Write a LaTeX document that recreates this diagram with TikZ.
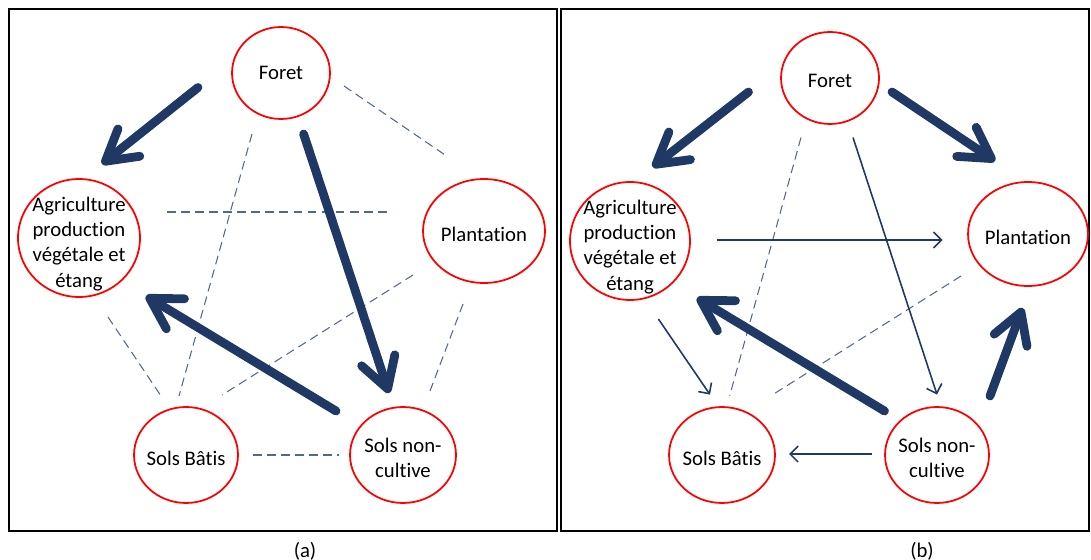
\documentclass[tikz,border=0pt]{standalone}
\usepackage{fontspec}
\setmainfont{Carlito}[Ligatures=NoCommon]
\usepackage{xcolor}
\usetikzlibrary{arrows.meta, shapes.geometric, calc}

\definecolor{flowblue}{RGB}{31,56,100}
\definecolor{linkblue}{RGB}{80,105,145}

\begin{document}
\begin{tikzpicture}[x=0.02cm, y=-0.02cm,
        land/.style={ellipse, draw=red, line width=1pt, inner sep=0pt},
        landtext/.style={align=center, font={\fontsize{11.8}{14.3}\selectfont}, inner sep=0pt, yshift=-1.7pt},
        bigflow/.style={draw=flowblue, line width=5pt, line cap=round, -{Straight Barb[length=6mm, width=7mm, line cap=round, line join=round]}},
        flow/.style={draw=flowblue, line width=0.9pt, -{Straight Barb[length=1.6mm, width=3.2mm]}},
        link/.style={draw=linkblue, line width=0.6pt, dash pattern=on 5pt off 3pt},
        panel/.style={draw=black, line width=1.1pt}
    ]
        \useasboundingbox (0,0) rectangle (1091,560);
        % Panels
        \draw[panel] (9,9) rectangle (557,531);
        \draw[panel] (561,9) rectangle (1089,531);
        \node (capA) [landtext] at (305,548) {(a)};
        \node (capB) [landtext] at (922,548) {(b)};
        % Land uses (a)
        \node (foretA) [land, minimum width=1.96cm, minimum height=1.84cm, label={[landtext, yshift=1.7pt]center:Foret}] at (281,73) {};
        \node (agriA) [land, minimum width=2.44cm, minimum height=2.36cm, label={[landtext, yshift=-1.7pt]center:Agriculture\\production\\végétale et\\étang}] at (79,238) {};
        \node (plantA) [land, minimum width=2.44cm, minimum height=2.08cm, label={[landtext]center:Plantation}] at (484,231) {};
        \node (batisA) [land, minimum width=2.08cm, minimum height=1.92cm, label={[landtext]center:Sols Bâtis}] at (186,455) {};
        \node (noncA) [land, minimum width=2.12cm, minimum height=1.92cm, label={[landtext]center:Sols non-\\cultive}] at (403,455) {};
        % Land uses (b)
        \node (foretB) [land, minimum width=1.96cm, minimum height=1.84cm, label={[landtext]center:Foret}] at (830,78) {};
        \node (agriB) [land, minimum width=2.4cm, minimum height=2.36cm, label={[landtext, yshift=-1.7pt]center:Agriculture\\production\\végétale et\\étang}] at (630,241) {};
        \node (plantB) [land, minimum width=2.4cm, minimum height=2.08cm, label={[landtext]center:Plantation}] at (1028,234) {};
        \node (batisB) [land, minimum width=2.12cm, minimum height=1.92cm, label={[landtext]center:Sols Bâtis}] at (722,455) {};
        \node (noncB) [land, minimum width=2.08cm, minimum height=1.92cm, label={[landtext]center:Sols non-\\cultive}] at (937,455) {};
        % Links (a)
        \draw [link] ($(foretA)+(63,13)$) -- ($(plantA)+(-36,-74)$);
        \draw [link] ($(foretA)+(-29,61)$) -- ($(batisA)+(-7,-59)$);
        \draw [link] ($(agriA)+(88,-26)$) -- ($(plantA)+(-93,-19)$);
        \draw [link] ($(plantA)+(-71,44)$) -- ($(batisA)+(36,-60)$);
        \draw [link] ($(plantA)+(-21,73)$) -- ($(noncA)+(27,-64)$);
        \draw [link] ($(agriA)+(29,79)$) -- ($(batisA)+(-25,-59)$);
        \draw [link] ($(batisA)+(67,0)$) -- ($(noncA)+(-64,0)$);
        % Flows (a)
        \draw [bigflow] ($(foretA)+(-83,14.5)$) -- ($(agriA)+(23,-74)$);
        \draw [bigflow] ($(foretA)+(22.6,61)$) -- ($(noncA)+(-14,-62)$);
        \draw [bigflow] ($(noncA)+(-67,-44)$) -- ($(agriA)+(67,58)$);
        % Links (b)
        \draw [link] ($(foretB)+(-29,59.5)$) -- ($(batisB)+(7.7,-59.3)$);
        \draw [link] ($(plantB)+(-67,42)$) -- ($(batisB)+(49,-59.3)$);
        % Flows (b)
        \draw [flow] ($(agriB)+(86.6,-1)$) -- ($(plantB)+(-85.3,6)$);
        \draw [flow] ($(foretB)+(23,59.5)$) -- ($(noncB)+(0,-60.4)$);
        \draw [flow] ($(agriB)+(28.4,78)$) -- ($(batisB)+(-12,-60.4)$);
        \draw [flow] ($(noncB)+(-65,-1)$) -- ($(batisB)+(67,-1)$);
        \draw [bigflow] ($(foretB)+(-81.5,14)$) -- ($(agriB)+(22.6,-74)$);
        \draw [bigflow] ($(foretB)+(62,14)$) -- ($(plantB)+(-33,-73)$);
        \draw [bigflow] ($(noncB)+(-52.5,-44)$) -- ($(agriB)+(67,57)$);
        \draw [bigflow] ($(noncB)+(53,-59)$) -- ($(plantB)+(-5.5,74)$);
    \end{tikzpicture}
\end{document}
